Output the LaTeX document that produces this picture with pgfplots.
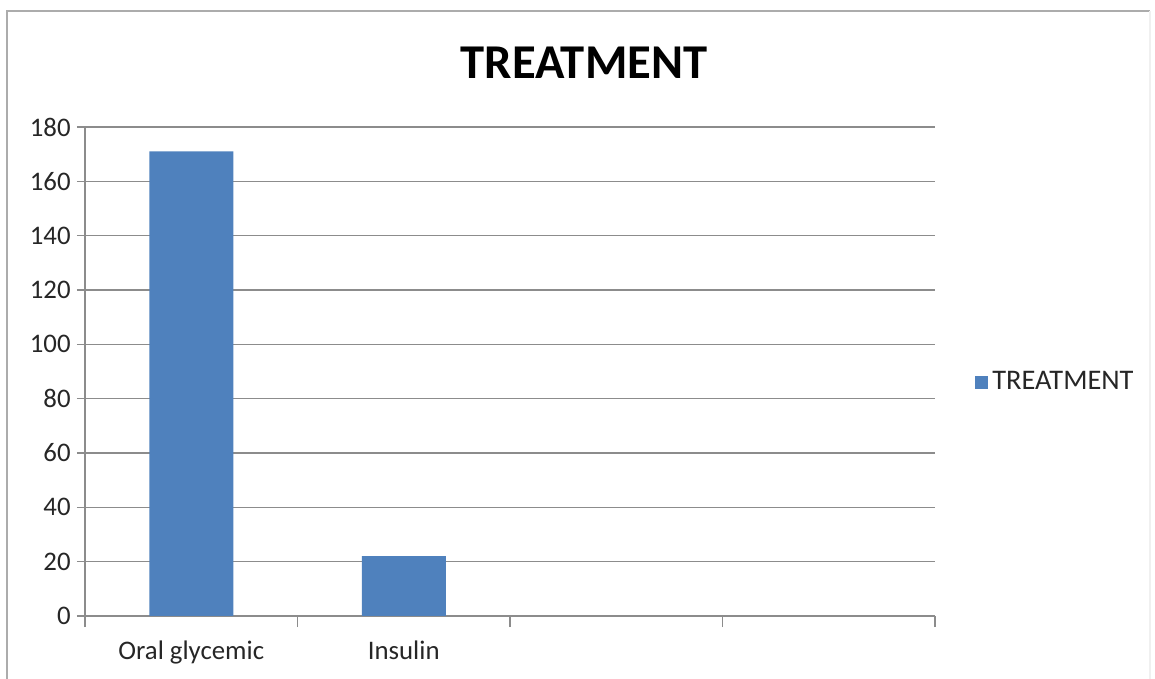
\documentclass[border=0pt]{standalone}
\usepackage{pgfplots}
\pgfplotsset{compat=1.18}
\usepackage{fontspec}
\setmainfont{Carlito}
\definecolor{barblue}{HTML}{4F81BD}
\definecolor{gridgray}{HTML}{8C8C8C}
\definecolor{labelgray}{HTML}{262626}
\begin{document}
\begin{tikzpicture}
\path[use as bounding box] (0,0) rectangle (577.5pt,339.5pt);
% chart area frame
\draw[gray!65, line width=1.2pt] (3.5pt,0) -- (3.5pt,334pt) -- (575pt,334pt);
\draw[gray!12, line width=0.8pt] (575pt,334pt) -- (575pt,0);
% title
\node[font=\fontsize{24.3pt}{29pt}\selectfont\bfseries, text=black] at (292pt,308pt) {TREATMENT};
\begin{axis}[
  at={(42.5pt,31.5pt)}, anchor=south west,
  scale only axis, width=425pt, height=244.5pt,
  xmin=-0.5, xmax=3.5, ymin=0, ymax=180,
  ybar, bar width=42pt,
  ytick={0,20,...,180},
  xtick={0,1}, xticklabels={Oral glycemic, Insulin},
  x tick style={draw=none},
  extra x ticks={-0.5,0.5,1.5,2.5,3.5},
  extra x tick labels={},
  extra x tick style={x tick style={draw=gridgray, line width=0.8pt}, major tick length=5.5pt, xmajorgrids=false},
  axis lines*=left,
  axis line style={draw=gridgray, line width=0.8pt},
  y tick style={draw=gridgray, line width=0.8pt},
  major tick length=4pt,
  tick align=outside,
  ymajorgrids,
  grid style={draw=gridgray, line width=0.8pt},
  /pgf/number format/assume math mode=true,
  tick label style={font=\fontsize{13.4pt}{15pt}\selectfont, text=labelgray},
  yticklabel style={inner sep=0pt, xshift=-3pt},
  xticklabel style={inner sep=0pt, yshift=-8pt},
  legend style={at={(1.047,0.4785)}, anchor=west, draw=none, fill=none, inner sep=0pt,
    font=\fontsize{14.2pt}{16pt}\selectfont, text=labelgray,
    legend cell align=left},
]
\addplot[fill=barblue, draw=none,
  legend image code/.code={\fill[barblue] (0pt,-3.25pt) rectangle (6.5pt,3.25pt);}]
  coordinates {(0,171) (1,22)};
\addlegendentry{TREATMENT}
\end{axis}
\end{tikzpicture}
\end{document}
